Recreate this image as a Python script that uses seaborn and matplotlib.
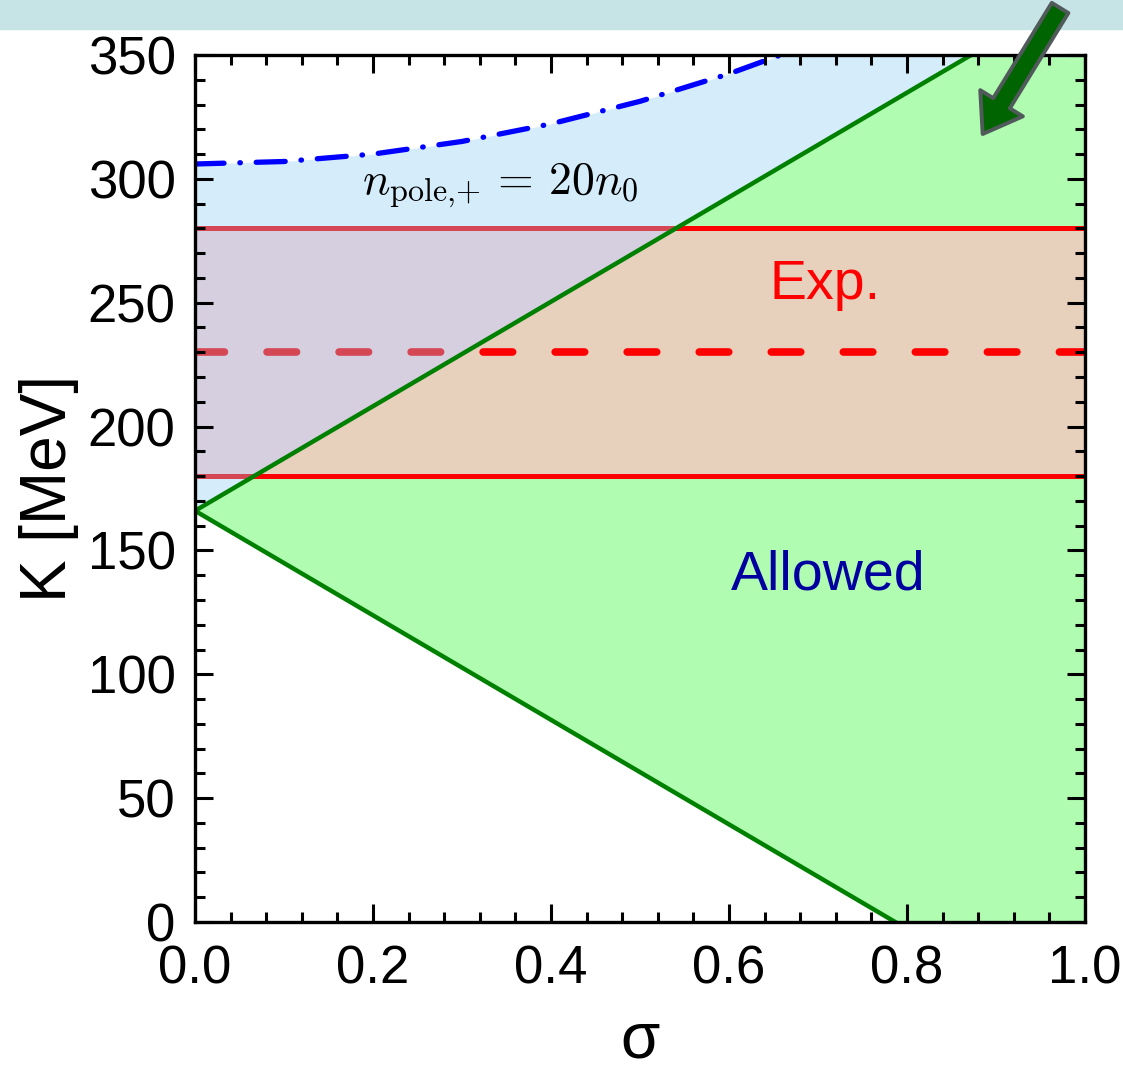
import numpy as np
import matplotlib
matplotlib.use("Agg")
import matplotlib.pyplot as plt
from matplotlib.patches import Rectangle
import seaborn as sns

# Boundary lines of the allowed wedge: K = K0 +/- c*sigma
line_sigma = [0.0, 1.0]
line_upper = [166.0, 377.0]
line_lower = [166.0, -45.0]

# Pole-density contour n_pole,+ = 20 n0
sigma_pole = [0.0, 0.1, 0.2, 0.3, 0.4, 0.5, 0.6, 0.7, 0.8, 0.9, 1.0]
K_pole = [306.0, 307.0, 310.0, 315.1, 322.2, 331.3, 342.4, 355.5, 370.6, 387.8, 407.0]

# Experimental incompressibility range and central value
exp_low, exp_high, exp_center = 180.0, 280.0, 230.0

sns.set_theme(style="ticks")
plt.rcParams["font.family"] = ["Liberation Sans", "DejaVu Sans"]
plt.rcParams["mathtext.fontset"] = "cm"
plt.rcParams["text.color"] = "black"
plt.rcParams["axes.labelcolor"] = "black"
plt.rcParams["xtick.color"] = "black"
plt.rcParams["ytick.color"] = "black"

fig = plt.figure(figsize=(11.23, 10.73), dpi=100)
ax = fig.add_axes([195 / 1123, 1 - 922 / 1073, 890 / 1123, 867 / 1073])

# header strip
fig.patches.append(Rectangle((0, 1 - 29 / 1073), 1, 29 / 1073,
                             transform=fig.transFigure, color="#c6e4e6", zorder=-1))

# allowed (green) wedge
ax.fill_between(line_sigma, line_lower, line_upper, color="#b0fcb0", lw=0, zorder=1)

# experimental band
ax.fill_between([0.0, 1.0], [exp_low] * 2, [exp_high] * 2,
                color=(254 / 255, 190 / 255, 194 / 255), alpha=0.71, lw=0, zorder=2)
for k in (exp_low, exp_high):
    ax.axhline(k, color="#ff0000", lw=3.6, zorder=3)
ax.axhline(exp_center, color="#ff0000", lw=5.5, zorder=3,
           linestyle=(0, (3.86, 5.57)), dash_capstyle="round")

# region between the wedge edge and the pole contour
sp = np.array(sigma_pole)
kp = np.array(K_pole)
up_at_pole = np.interp(sp, line_sigma, line_upper)
ax.fill_between(sp, up_at_pole, kp, where=kp >= up_at_pole, interpolate=True,
                color=(137 / 255, 206 / 255, 246 / 255), alpha=0.35, lw=0, zorder=4)

# wedge edges
sns.lineplot(x=line_sigma, y=line_upper, ax=ax, color="#008000", lw=3.2, zorder=5)
sns.lineplot(x=line_sigma, y=line_lower, ax=ax, color="#008000", lw=3.2, zorder=5)

# pole contour
sns.lineplot(x=sigma_pole, y=K_pole, ax=ax, color="#0000ff", lw=3.8, zorder=6,
             linestyle=(0, (5.5, 3.0, 0.1, 3.0)), dash_capstyle="round")

ax.set_xlim(0, 1)
ax.set_ylim(0, 350)
ax.set_xticks(np.arange(0, 1.01, 0.2))
ax.set_xticks(np.arange(0, 1.001, 0.04), minor=True)
ax.set_yticks(np.arange(0, 351, 50))
ax.set_yticks(np.arange(0, 351, 10), minor=True)
ax.set_xticklabels([f"{v:.1f}" for v in np.arange(0, 1.01, 0.2)])
ax.tick_params(which="both", direction="in", top=True, right=True, width=2.2,
               color="black", labelcolor="black", labelsize=38)
ax.tick_params(axis="x", pad=16)
ax.tick_params(axis="y", pad=14)
ax.tick_params(which="major", length=13)
ax.tick_params(which="minor", length=7)
ax.xaxis.set_zorder(9)
ax.yaxis.set_zorder(9)
for s in ax.spines.values():
    s.set_linewidth(2.4)
    s.set_color("black")
    s.set_zorder(10)

ax.set_xlabel("σ", fontsize=46, labelpad=12)
ax.set_ylabel("K [MeV]", fontsize=46, labelpad=6)

ax.text(0.343, 297.5, r"$n_{\text{pole,+}}\,=\,20n_0$", fontsize=33,
        ha="center", va="center", color="black", zorder=8)
ax.text(0.708, 257, "Exp.", fontsize=40, color="#ff0000",
        ha="center", va="center", zorder=8)
ax.text(0.711, 140, "Allowed", fontsize=40, color="#0000a0",
        ha="center", va="center", zorder=8)

# pointer arrow into the upper-right corner
ax.annotate("", xy=(0.885, 318.1), xytext=(0.972, 369.0), xycoords="data",
            annotation_clip=False, zorder=12,
            arrowprops=dict(arrowstyle="simple,head_length=2.6,head_width=3.6,tail_width=1.4",
                            mutation_scale=10, fc="#006400", ec="#505a5a", lw=2.8,
                            shrinkA=0, shrinkB=0, clip_on=False))

fig.savefig("out.png", dpi=100)
